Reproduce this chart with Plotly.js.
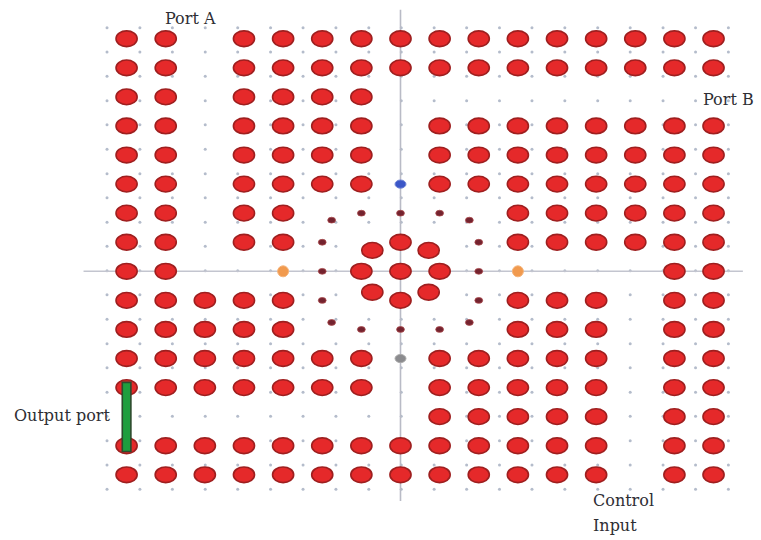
<!DOCTYPE html>
<html>
<head>
<meta charset="utf-8">
<script src="https://cdn.plot.ly/plotly-3.0.1.min.js"></script>
<style>html,body{margin:0;padding:0;background:#fff;}#chart{width:761px;height:540px;}</style>
</head>
<body>
<div id="chart"></div>
<script>
// Lattice rows (lattice units, up = positive) and the column indices of the rods in each row
const rodRows = [8, 7, 6, 5, 4, 3, 2, 1, 0, -1, -2, -3, -4, -5, -6, -7];
const rodCols = [
  [-7,-6,-4,-3,-2,-1,0,1,2,3,4,5,6,7,8],
  [-7,-6,-4,-3,-2,-1,0,1,2,3,4,5,6,7,8],
  [-7,-6,-4,-3,-2,-1],
  [-7,-6,-4,-3,-2,-1,1,2,3,4,5,6,7,8],
  [-7,-6,-4,-3,-2,-1,1,2,3,4,5,6,7,8],
  [-7,-6,-4,-3,-2,-1,1,2,3,4,5,6,7,8],
  [-7,-6,-4,-3,3,4,5,6,7,8],
  [-7,-6,-4,-3,3,4,5,6,7,8],
  [-7,-6,7,8],
  [-7,-6,-5,-4,-3,3,4,5,7,8],
  [-7,-6,-5,-4,-3,3,4,5,7,8],
  [-7,-6,-5,-4,-3,-2,-1,1,2,3,4,5,7,8],
  [-7,-6,-5,-4,-3,-2,-1,1,2,3,4,5,7,8],
  [1,2,3,4,5,7,8],
  [-7,-6,-5,-4,-3,-2,-1,0,1,2,3,4,5,7,8],
  [-7,-6,-5,-4,-3,-2,-1,0,1,2,3,4,5,7,8]
];
// Ring resonator: inner large rods
const ringX = [0, -0.72, 0.72, -1, 0, 1, -0.72, 0.72, 0];
const ringY = [1, 0.72, 0.72, 0, 0, 0, -0.72, -0.72, -1];
// Ring resonator: small outer rods
const smallX = [-1, 0, 1, -1.76, 1.76, -2, 2, -2, 2, -2, 2, -1.76, 1.76, -1, 0, 1];
const smallY = [2, 2, 2, 1.76, 1.76, 1, 1, 0, 0, -1, -1, -1.76, -1.76, -2, -2, -2];
// Special rods
const blueRodX = [0], blueRodY = [3];
const greyRodX = [0], greyRodY = [-3];
const orangeRodX = [-3, 3], orangeRodY = [0, 0];
// Output port bar
const outBarX = [-7];
const outBarY = [-3.82, -6.2];
// Simulation mesh points
const meshPos = [-7.5,-6.66,-5.83,-4.99,-4.16,-3.32,-2.49,-1.65,-0.81,0.02,0.86,1.69,2.53,3.36,4.20,5.04,5.87,6.71,7.54,8.38];
// Axis guide lines
const hAxisX = [-8.1, 8.75], hAxisY = [0, 0];
const vAxisX = [0, 0], vAxisY = [9.0, -7.9];
// Labels
const labels = [
  {text: 'Port A', x: -6.07, y: 8.7},
  {text: 'Port B', x: 7.68, y: 5.9},
  {text: 'Output port', x: -9.93, y: -4.95},
  {text: 'Control', x: 4.88, y: -7.87},
  {text: 'Input', x: 4.88, y: -8.73}
];

const rx = [], ry = [];
rodRows.forEach((r, i) => rodCols[i].forEach(c => { rx.push(c); ry.push(r); }));
const mx = [], my = [];
meshPos.forEach(a => meshPos.forEach(b => { mx.push(a); my.push(b); }));

function ellipses(xs, ys, rad, fill, edge, w) {
  return xs.map((x, i) => ({
    type: 'circle', xref: 'x', yref: 'y',
    x0: x - rad, x1: x + rad, y0: ys[i] - rad, y1: ys[i] + rad,
    fillcolor: fill, line: {color: edge, width: w}
  }));
}

const bigRad = 0.27;
const shapes = [].concat(
  ellipses(rx, ry, bigRad, '#e5292a', '#9e1f1f', 1.6),
  ellipses(ringX, ringY, bigRad, '#e5292a', '#9e1f1f', 1.6),
  ellipses(smallX, smallY, 0.1, '#74232f', '#a8474a', 0.8),
  ellipses(blueRodX, blueRodY, 0.14, '#3b57c8', '#6f84d6', 1),
  ellipses(greyRodX, greyRodY, 0.14, '#8b8b8e', '#aaaaaa', 1),
  [{type: 'rect', xref: 'x', yref: 'y',
    x0: outBarX[0] - 0.11, x1: outBarX[0] + 0.11, y0: outBarY[1], y1: outBarY[0],
    fillcolor: '#1f9e3e', line: {color: '#2d4a2d', width: 1.6}}]
);

const traces = [
  {x: mx, y: my, mode: 'markers', type: 'scatter', hoverinfo: 'skip',
   marker: {size: 3, color: '#b4bccb'}},
  {x: hAxisX, y: hAxisY, mode: 'lines', type: 'scatter', hoverinfo: 'skip',
   line: {color: '#c3c5cf', width: 1.6}},
  {x: vAxisX, y: vAxisY, mode: 'lines', type: 'scatter', hoverinfo: 'skip',
   line: {color: '#b9bbc6', width: 1.6}},
  {x: orangeRodX, y: orangeRodY, mode: 'markers', type: 'scatter',
   marker: {symbol: 'circle', size: 11, color: '#f19a4e', line: {color: '#f5b47a', width: 1}}}
];

const layout = {
  width: 761, height: 540,
  margin: {l: 0, r: 0, t: 0, b: 0},
  paper_bgcolor: '#ffffff', plot_bgcolor: '#ffffff',
  showlegend: false,
  xaxis: {range: [-10.235, 9.213], visible: false, fixedrange: true},
  yaxis: {range: [-9.243, 9.333], visible: false, fixedrange: true},
  shapes: shapes,
  annotations: labels.map(l => ({
    text: l.text, x: l.x, y: l.y, xref: 'x', yref: 'y',
    xanchor: 'left', yanchor: 'middle', showarrow: false,
    font: {family: 'DejaVu Serif, Liberation Serif, serif', size: 16, color: '#2e2e33'}
  }))
};

Plotly.newPlot('chart', traces, layout, {staticPlot: true});
</script>
</body>
</html>
